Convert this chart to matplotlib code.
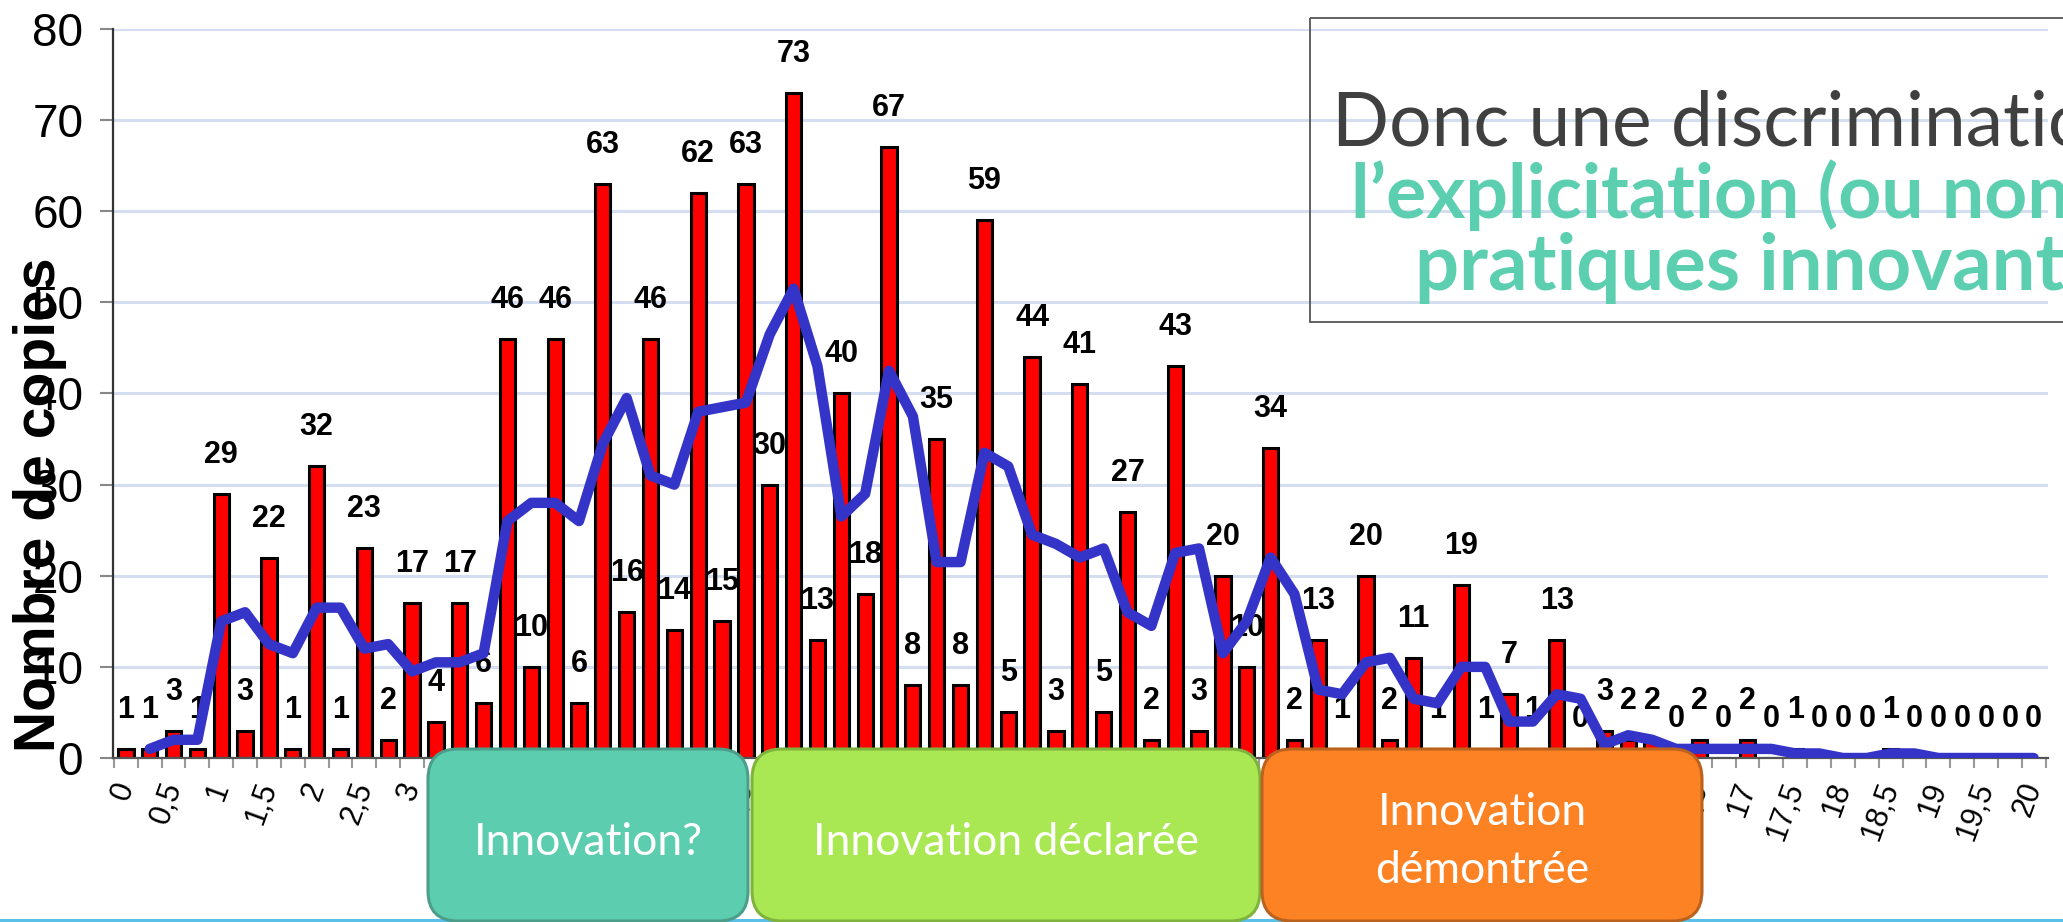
import numpy as np
import matplotlib.pyplot as plt
from matplotlib.patches import FancyBboxPatch, Rectangle

plt.rcParams['font.family'] = ['Liberation Sans', 'DejaVu Sans']

# notes sur 20, par pas de 0,25
notes = np.arange(81) * 0.25
copies = [1, 1, 3, 1, 29, 3, 22, 1, 32, 1, 23, 2, 17, 4, 17, 6,
          46, 10, 46, 6, 63, 16, 46, 14, 62, 15, 63, 30, 73, 13, 40, 18,
          67, 8, 35, 8, 59, 5, 44, 3, 41, 5, 27, 2, 43, 3, 20, 10,
          34, 2, 13, 1, 20, 2, 11, 1, 19, 1, 7, 1, 13, 0, 3, 2,
          2, 0, 2, 0, 2, 0, 1, 0, 0, 0, 1, 0, 0, 0, 0, 0, 0]
tick_pos = np.arange(41) * 0.5
tick_labels = [('%g' % t).replace('.', ',') for t in tick_pos]

categories = ['Innovation?', 'Innovation déclarée', 'Innovation\ndémontrée']
cat_colors = ['#5dcdb0', '#a9e853', '#fd8224']
cat_edges = ['#4b9e89', '#80b23e', '#bb621e']

message = ['Donc une discrimination sur',
           'l\u2019explicitation (ou non) des',
           'pratiques innovantes']

# moyenne mobile sur 2 periodes (courbe de tendance du graphique d'origine)
c = np.array(copies, dtype=float)
moyenne = (c[1:] + c[:-1]) / 2

W, H = 2063, 922
fig = plt.figure(figsize=(W / 100, H / 100), dpi=100)
ax = fig.add_axes([113 / W, 1 - 758 / H, (2048 - 113) / W, (758 - 29) / H])

ax.bar(notes, copies, width=0.16, color='#ff0000', edgecolor='black',
       linewidth=2.2, zorder=2)
ax.plot(notes[1:], moyenne, color='#3434c8', lw=7.5,
        solid_joinstyle='round', solid_capstyle='round', zorder=5)
for x, v in zip(notes, copies):
    ax.annotate(str(v), (x, v), xytext=(0, 24), textcoords='offset pixels',
                ha='center', va='bottom', fontsize=22, fontweight='bold',
                zorder=4)

ax.set_xlim(-0.135, 20.15)
ax.set_ylim(0, 80)
ax.set_yticks(range(0, 81, 10))
ax.yaxis.grid(True, color='#d5ddf0', lw=2.2)
ax.set_axisbelow(True)
for s in ['top', 'right']:
    ax.spines[s].set_visible(False)
ax.spines['left'].set_color('#333333')
ax.spines['left'].set_linewidth(1.6)
ax.spines['bottom'].set_color('#555555')
ax.spines['bottom'].set_linewidth(1.6)
ax.tick_params(axis='y', length=9.5, width=1.5, color='#888888', pad=12,
               labelsize=33)

ax.set_xticks(tick_pos)
ax.set_xticklabels(tick_labels, rotation=70, ha='right', va='center',
                   rotation_mode='anchor', fontsize=22)
ax.set_xticks(np.arange(82) * 0.25 - 0.125, minor=True)
ax.tick_params(axis='x', which='major', length=0, pad=18)
ax.tick_params(axis='x', which='minor', length=7, width=1.5, color='#999999')

fig.text(40 / W, 1 - 505 / H, 'Nombre de copies', rotation=90, fontsize=41,
         fontweight='bold', ha='center', va='center')

# calque en pixels pour les elements de diapositive
ov = fig.add_axes([0, 0, 1, 1], zorder=5)
ov.set_xlim(0, W)
ov.set_ylim(H, 0)
ov.axis('off')
ov.patch.set_alpha(0)

ov.plot([0, W], [920, 920], color='#5bc0e8', lw=2.2, zorder=1)

boxes = [(428, 748), (752, 1260), (1262, 1702)]
for (x0, x1), lab, fc, ec in zip(boxes, categories, cat_colors, cat_edges):
    ov.add_patch(FancyBboxPatch((x0, 749), x1 - x0, 172,
                                boxstyle='round,pad=0,rounding_size=30',
                                fc=fc, ec=ec, lw=2.2, zorder=2))
    if '\n' in lab:
        l1, l2 = lab.split('\n')
        ov.text((x0 + x1) / 2, 825, l1, family='Lato', fontsize=32,
                color='white', ha='center', va='baseline', zorder=3)
        ov.text((x0 + x1) / 2, 883, l2, family='Lato', fontsize=32,
                color='white', ha='center', va='baseline', zorder=3)
    else:
        ov.text((x0 + x1) / 2, 855, lab, family='Lato', fontsize=32,
                color='white', ha='center', va='baseline', zorder=3)

ov.add_patch(Rectangle((1310, 18), 1000, 304, fill=False,
                       edgecolor='#555555', lw=1.3, zorder=2))
ov.text(1332, 145, message[0], family='Lato', fontsize=54, color='#404040',
        ha='left', va='baseline', clip_on=True, zorder=3)
ov.text(1351, 218, message[1], family='Lato', fontsize=54, weight='bold',
        color='#5ccfb0', ha='left', va='baseline', clip_on=True, zorder=3)
ov.text(1415, 290, message[2], family='Lato', fontsize=56, weight='bold',
        color='#5ccfb0', ha='left', va='baseline', clip_on=True, zorder=3)

fig.savefig('out.png', dpi=100)
